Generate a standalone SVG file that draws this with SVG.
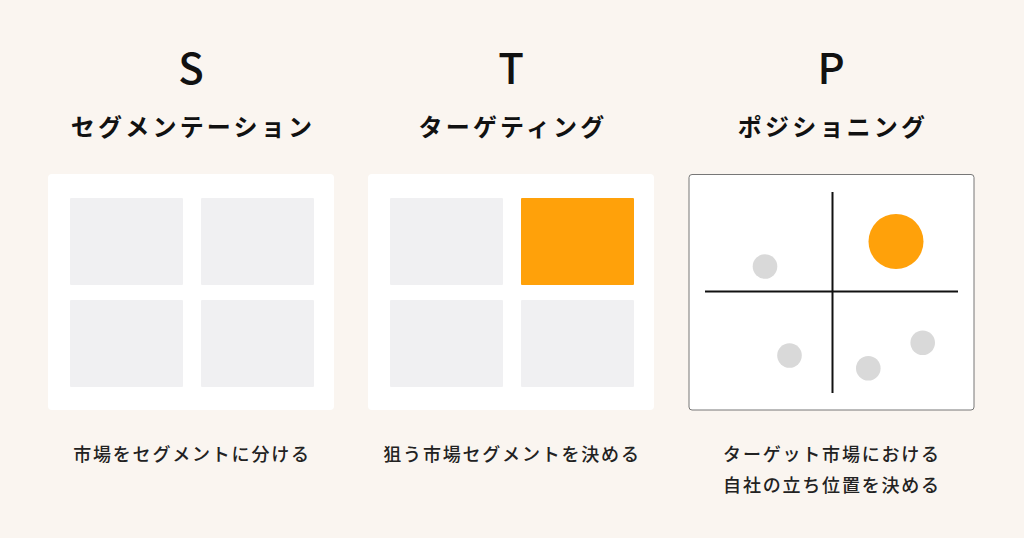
<svg xmlns="http://www.w3.org/2000/svg" width="1024" height="538" viewBox="0 0 1024 538">
<style>
.letter{font-family:"Noto Sans CJK JP","Noto Sans",sans-serif;font-size:42px;font-weight:500;fill:#111;text-anchor:middle}
.title{font-family:"Noto Sans CJK JP",sans-serif;font-size:24px;font-weight:700;fill:#111;text-anchor:middle;letter-spacing:3.2px}
.cap{font-family:"Noto Sans CJK JP",sans-serif;font-size:18px;font-weight:500;fill:#222;text-anchor:middle;letter-spacing:1.8px}
.panel{fill:#ffffff}
.cell{fill:#f0f0f2}
.hl{fill:#ffa10a}
.dot{fill:#d9d9d9}
.axis{stroke:#111;stroke-width:2}
</style>
<rect width="1024" height="538" fill="#faf5f0"/>
<g id="S">
<text class="letter" x="191" y="84">S</text>
<text class="title" x="193" y="136">セグメンテーション</text>
<rect class="panel" x="48" y="174" width="286" height="236" rx="4"/>
<rect class="cell" x="70" y="198" width="113" height="87" rx="1"/>
<rect class="cell" x="201" y="198" width="113" height="87" rx="1"/>
<rect class="cell" x="70" y="300" width="113" height="87" rx="1"/>
<rect class="cell" x="201" y="300" width="113" height="87" rx="1"/>
<text class="cap" x="192" y="461">市場をセグメントに分ける</text>
</g>
<g id="T">
<text class="letter" x="511" y="84">T</text>
<text class="title" x="513" y="136">ターゲティング</text>
<rect class="panel" x="368" y="174" width="286" height="236" rx="4"/>
<rect class="cell" x="390" y="198" width="113" height="87" rx="1"/>
<rect class="hl" x="521" y="198" width="113" height="87" rx="1"/>
<rect class="cell" x="390" y="300" width="113" height="87" rx="1"/>
<rect class="cell" x="521" y="300" width="113" height="87" rx="1"/>
<text class="cap" x="512" y="461">狙う市場セグメントを決める</text>
</g>
<g id="P">
<text class="letter" x="831" y="84">P</text>
<text class="title" x="833" y="136">ポジショニング</text>
<rect class="panel" x="689" y="174.5" width="285" height="235.5" rx="3" stroke="#777" stroke-width="1"/>
<g id="connectors">
<line class="axis" x1="832.5" y1="192" x2="832.5" y2="393"/>
<line class="axis" x1="705" y1="291.5" x2="958" y2="291.5"/>
</g>
<circle class="hl" cx="896" cy="241.5" r="27.5"/>
<circle class="dot" cx="765" cy="266.5" r="12.3"/>
<circle class="dot" cx="789.5" cy="355.5" r="12.3"/>
<circle class="dot" cx="868.3" cy="368.3" r="12.3"/>
<circle class="dot" cx="922.7" cy="342.7" r="12.3"/>
<text class="cap" x="832" y="461">ターゲット市場における</text>
<text class="cap" x="832" y="492">自社の立ち位置を決める</text>
</g>
</svg>
